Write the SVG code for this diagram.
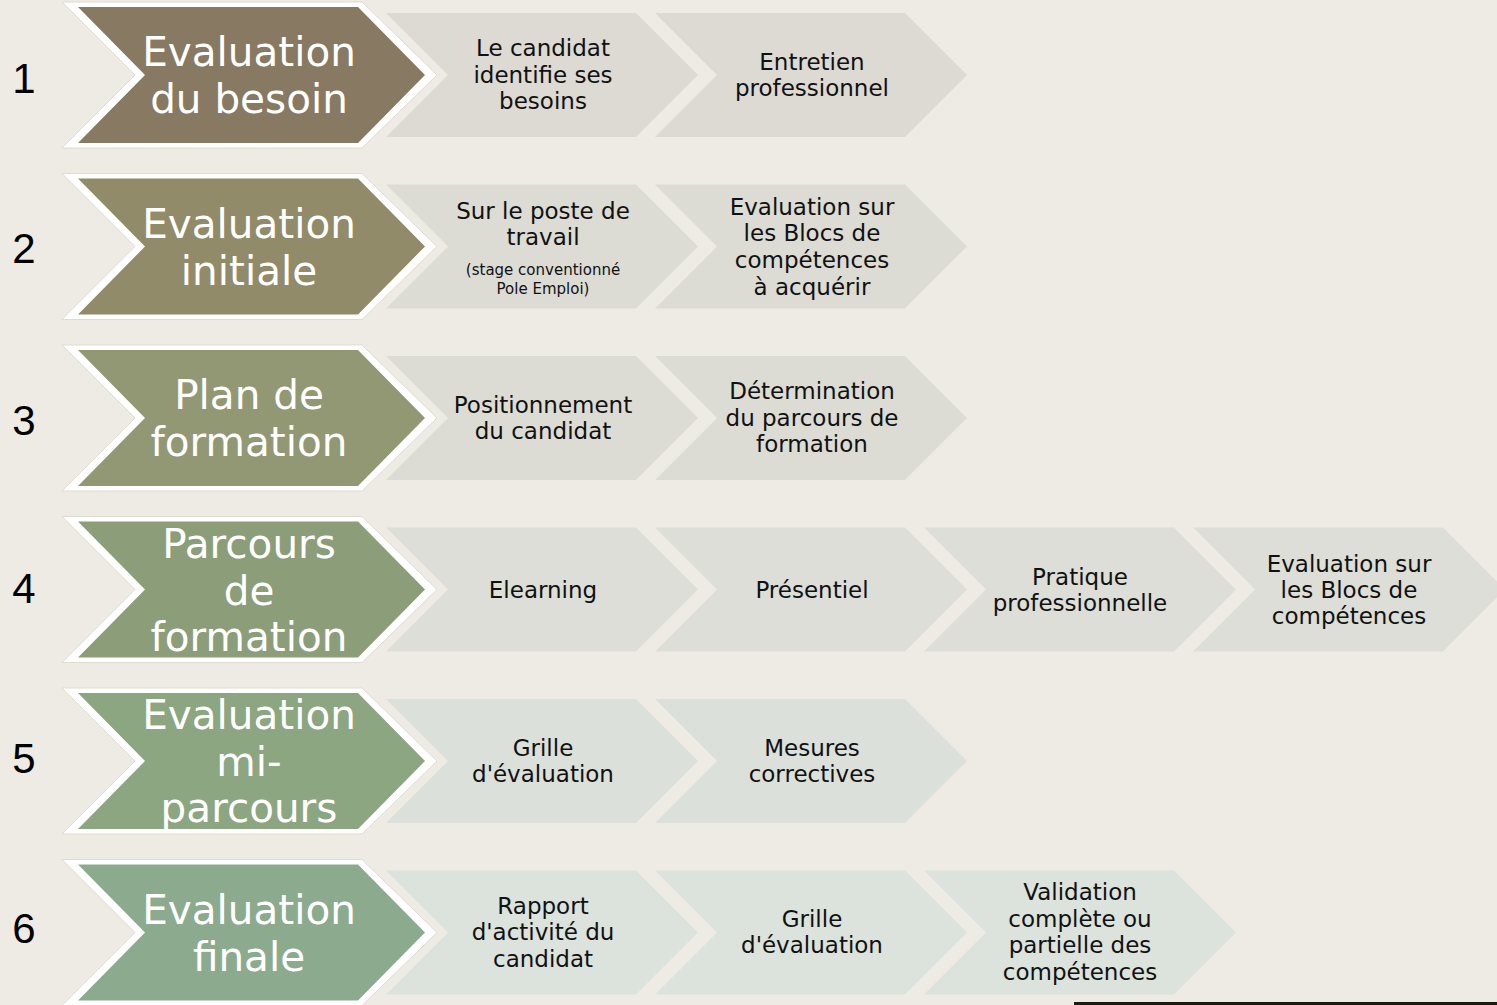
<svg xmlns="http://www.w3.org/2000/svg" width="1497" height="1005" viewBox="0 0 1497 1005">
<defs>
<style>
.num{font-family:"Liberation Sans",Arial,sans-serif;font-size:42px;fill:#000;text-anchor:middle}
.outer{fill:#ffffff;stroke:#dedbd2;stroke-width:1}
.mt{font-family:"DejaVu Sans","Liberation Sans",sans-serif;font-size:40.5px;fill:#ffffff;text-anchor:middle}
.st{font-family:"DejaVu Sans","Liberation Sans",sans-serif;font-size:23px;fill:#111;text-anchor:middle}
.sm{font-family:"DejaVu Sans","Liberation Sans",sans-serif;font-size:15px;fill:#111;text-anchor:middle}
.r1 .main{fill:#877962}.r1 .sec{fill:#dcdad3}
.r2 .main{fill:#918b69}.r2 .sec{fill:#dcdbd4}
.r3 .main{fill:#919873}.r3 .sec{fill:#dcdcd5}
.r4 .main{fill:#8c9e79}.r4 .sec{fill:#dcded7}
.r5 .main{fill:#8ca681}.r5 .sec{fill:#dce0da}
.r6 .main{fill:#8cab8e}.r6 .sec{fill:#dce2dc}
</style>
<polygon id="mo" points="62,2 362,2 437,75 362,148 62,148 135,75"/>
<polygon id="mi" points="78,7 358,7 425,75 358,143 78,143 145,75"/>
<polygon id="sc" points="0,13 250,13 312,75 250,137 0,137 62,75"/>
</defs>
<rect width="1497" height="1005" fill="#eeebe4"/>

<g id="row1" class="r1">
 <g id="r1-s1"><use href="#sc" class="sec" x="386"/>
  <text class="st" x="543" y="56">Le candidat</text><text class="st" x="543" y="83">identifie ses</text><text class="st" x="543" y="109">besoins</text></g>
 <g id="r1-s2"><use href="#sc" class="sec" x="655"/>
  <text class="st" x="812" y="70">Entretien</text><text class="st" x="812" y="96">professionnel</text></g>
 <g id="r1-main"><use href="#mo" class="outer"/><use href="#mi" class="main"/>
  <text class="mt" x="249" y="66">Evaluation</text><text class="mt" x="249" y="113">du besoin</text></g>
 <text id="n1" class="num" x="24" y="93">1</text>
</g>

<g id="row2" class="r2" transform="translate(0,171.5)">
 <g id="r2-s1"><use href="#sc" class="sec" x="386"/>
  <text class="st" x="543" y="47.5">Sur le poste de</text><text class="st" x="543" y="73.5">travail</text>
  <text class="sm" x="543" y="103">(stage conventionné</text><text class="sm" x="543" y="122">Pole Emploi)</text></g>
 <g id="r2-s2"><use href="#sc" class="sec" x="655"/>
  <text class="st" x="812" y="43.5">Evaluation sur</text><text class="st" x="812" y="69.5">les Blocs de</text><text class="st" x="812" y="96.5">compétences</text><text class="st" x="812" y="123.5">à acquérir</text></g>
 <g id="r2-main"><use href="#mo" class="outer"/><use href="#mi" class="main"/>
  <text class="mt" x="249" y="66">Evaluation</text><text class="mt" x="249" y="113">initiale</text></g>
 <text id="n2" class="num" x="24" y="91.5">2</text>
</g>

<g id="row3" class="r3" transform="translate(0,343)">
 <g id="r3-s1"><use href="#sc" class="sec" x="386"/>
  <text class="st" x="543" y="70">Positionnement</text><text class="st" x="543" y="96">du candidat</text></g>
 <g id="r3-s2"><use href="#sc" class="sec" x="655"/>
  <text class="st" x="812" y="56">Détermination</text><text class="st" x="812" y="83">du parcours de</text><text class="st" x="812" y="109">formation</text></g>
 <g id="r3-main"><use href="#mo" class="outer"/><use href="#mi" class="main"/>
  <text class="mt" x="249" y="66">Plan de</text><text class="mt" x="249" y="113">formation</text></g>
 <text id="n3" class="num" x="24" y="91.5">3</text>
</g>

<g id="row4" class="r4" transform="translate(0,514.5)">
 <g id="r4-s1"><use href="#sc" class="sec" x="386"/>
  <text class="st" x="543" y="83">Elearning</text></g>
 <g id="r4-s2"><use href="#sc" class="sec" x="655"/>
  <text class="st" x="812" y="83">Présentiel</text></g>
 <g id="r4-s3"><use href="#sc" class="sec" x="924"/>
  <text class="st" x="1080" y="70">Pratique</text><text class="st" x="1080" y="96">professionnelle</text></g>
 <g id="r4-s4"><use href="#sc" class="sec" x="1193"/>
  <text class="st" x="1349" y="57">Evaluation sur</text><text class="st" x="1349" y="83">les Blocs de</text><text class="st" x="1349" y="109">compétences</text></g>
 <g id="r4-main"><use href="#mo" class="outer"/><use href="#mi" class="main"/>
  <text class="mt" x="249" y="43">Parcours</text><text class="mt" x="249" y="90">de</text><text class="mt" x="249" y="136">formation</text></g>
 <text id="n4" class="num" x="24" y="88">4</text>
</g>

<g id="row5" class="r5" transform="translate(0,686)">
 <g id="r5-s1"><use href="#sc" class="sec" x="386"/>
  <text class="st" x="543" y="70">Grille</text><text class="st" x="543" y="96">d'évaluation</text></g>
 <g id="r5-s2"><use href="#sc" class="sec" x="655"/>
  <text class="st" x="812" y="70">Mesures</text><text class="st" x="812" y="96">correctives</text></g>
 <g id="r5-main"><use href="#mo" class="outer"/><use href="#mi" class="main"/>
  <text class="mt" x="249" y="43">Evaluation</text><text class="mt" x="249" y="90">mi-</text><text class="mt" x="249" y="136">parcours</text></g>
 <text id="n5" class="num" x="24" y="87">5</text>
</g>

<g id="row6" class="r6" transform="translate(0,857.5)">
 <g id="r6-s1"><use href="#sc" class="sec" x="386"/>
  <text class="st" x="543" y="56.5">Rapport</text><text class="st" x="543" y="82.5">d'activité du</text><text class="st" x="543" y="109.5">candidat</text></g>
 <g id="r6-s2"><use href="#sc" class="sec" x="655"/>
  <text class="st" x="812" y="69.5">Grille</text><text class="st" x="812" y="95.5">d'évaluation</text></g>
 <g id="r6-s3"><use href="#sc" class="sec" x="924"/>
  <text class="st" x="1080" y="42.5">Validation</text><text class="st" x="1080" y="69.5">complète ou</text><text class="st" x="1080" y="95.5">partielle des</text><text class="st" x="1080" y="122.5">compétences</text></g>
 <g id="r6-main"><use href="#mo" class="outer"/><use href="#mi" class="main"/>
  <text class="mt" x="249" y="66">Evaluation</text><text class="mt" x="249" y="113">finale</text></g>
 <text id="n6" class="num" x="24" y="85">6</text>
</g>

<g id="connectors"></g>
<rect x="1074" y="1002" width="423" height="3" fill="#1b1b12"/>
</svg>
